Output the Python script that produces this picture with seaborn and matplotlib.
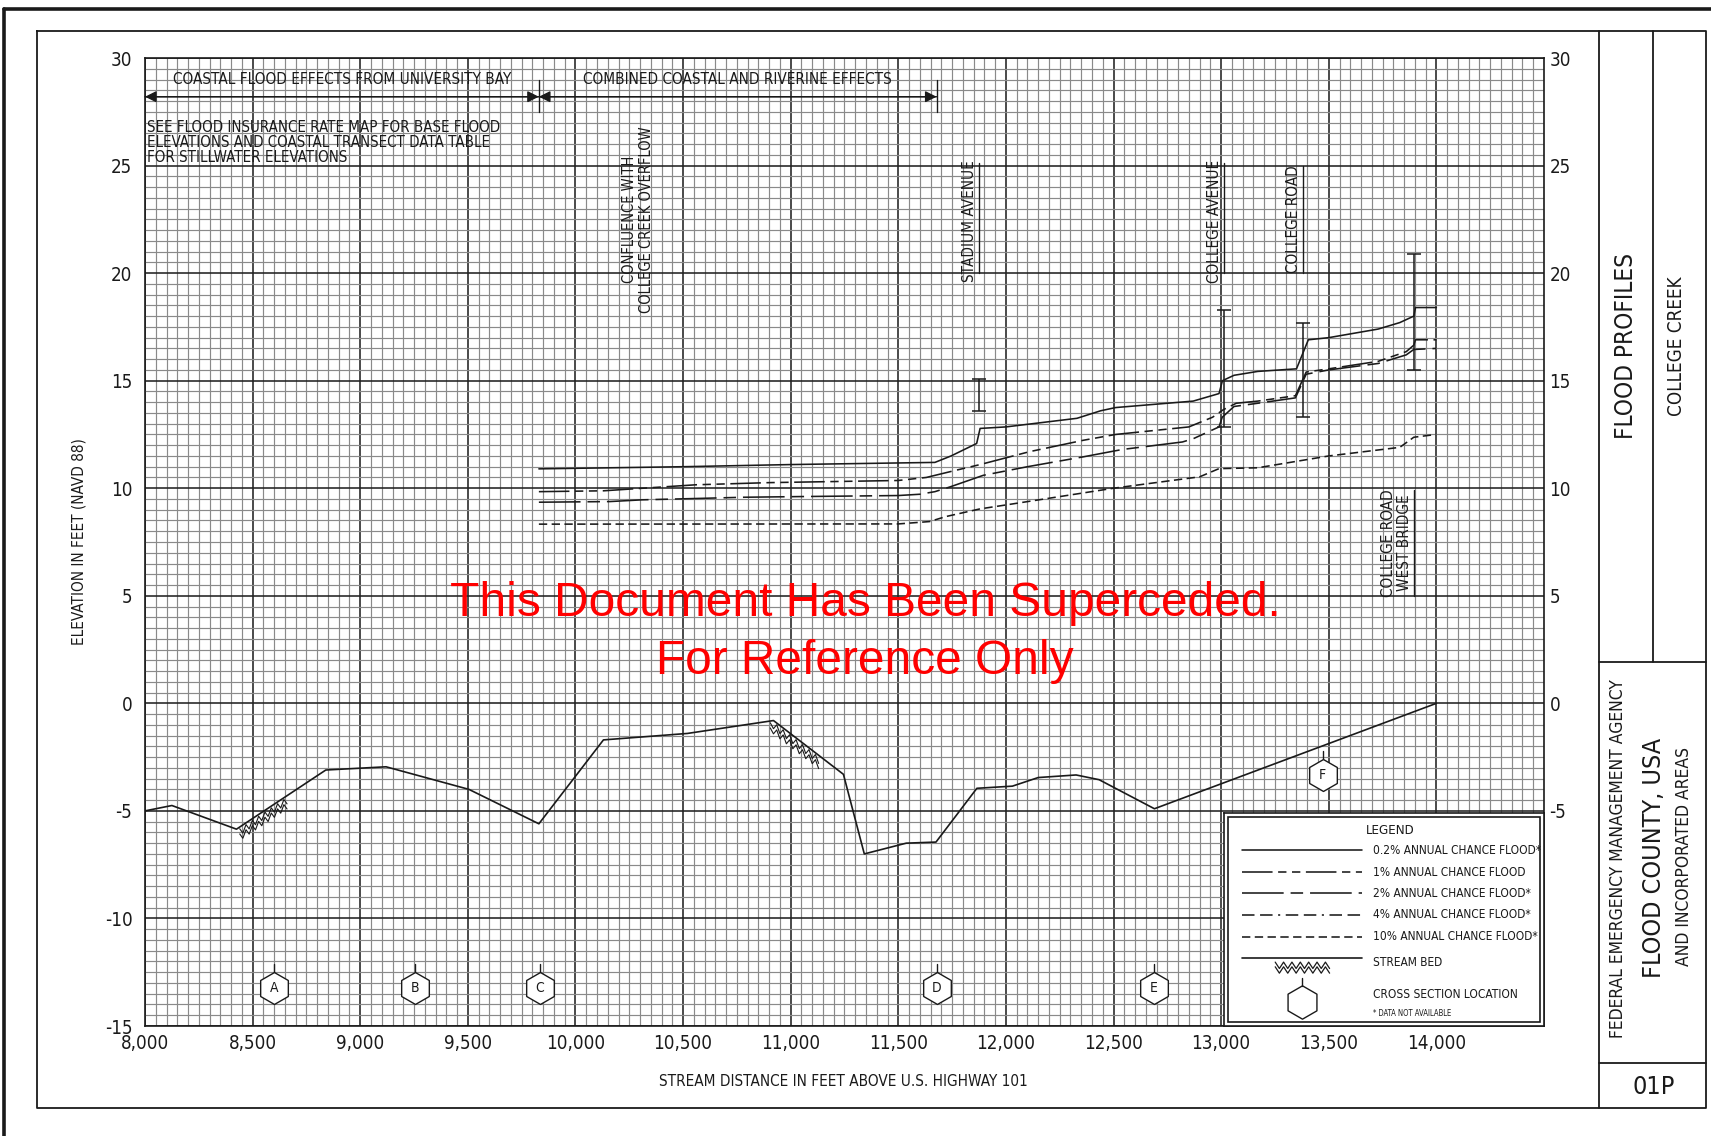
import numpy as np
import matplotlib
matplotlib.use("Agg")
import matplotlib.pyplot as plt
import matplotlib.transforms as mtransforms
from matplotlib.lines import Line2D
from matplotlib.patches import Rectangle
from matplotlib.ticker import MultipleLocator
import seaborn as sns

# ---------------------------------------------------------------- data
# Stream bed (stream distance in feet, elevation in feet NAVD 88)
bed_dist = [8000, 8125, 8425, 8840, 9120, 9505, 9830, 10130, 10520, 10920,
            11245, 11342, 11537, 11675, 11865, 12030, 12150, 12326, 12433,
            12690, 14000]
bed_elev = [-5.0, -4.75, -5.85, -3.1, -2.95, -4.0, -5.6, -1.7, -1.4, -0.8,
            -3.3, -7.0, -6.5, -6.45, -3.95, -3.85, -3.45, -3.33, -3.55,
            -4.9, 0.0]

# 0.2% annual chance flood profile
p02_dist = [9830, 10500, 11000, 11670, 11745, 11864, 11880, 12000, 12330,
            12440, 12510, 12870, 12990, 13006, 13060, 13170, 13350, 13405,
            13500, 13730, 13830, 13895, 13903, 14000]
p02_elev = [10.9, 11.0, 11.1, 11.2, 11.5, 12.08, 12.78, 12.85, 13.25,
            13.6, 13.75, 14.05, 14.4, 15.0, 15.25, 15.43, 15.55, 16.9,
            17.0, 17.4, 17.7, 18.0, 18.4, 18.4]

# 1% annual chance flood profile
p1_dist = [9830, 10130, 10390, 10560, 10900, 11500, 11630, 11770, 11880,
           12110, 12360, 12510, 12850, 12960, 13010, 13070, 13170, 13345,
           13395, 13500, 13730, 13860, 13895, 13903, 14000]
p1_elev = [9.84, 9.88, 10.05, 10.16, 10.26, 10.36, 10.5, 10.84, 11.1,
           11.7, 12.23, 12.5, 12.85, 13.3, 13.65, 13.95, 14.05, 14.3,
           15.4, 15.55, 15.9, 16.35, 16.65, 16.9, 16.9]

# 2% annual chance flood profile
p2_dist = [9830, 10160, 10310, 10590, 10780, 11030, 11500, 11600, 11670,
           11740, 11895, 12100, 12360, 12540, 12820, 12870, 12990, 13005,
           13060, 13170, 13345, 13395, 13500, 13730, 13860, 13895, 14000]
p2_elev = [9.35, 9.38, 9.46, 9.53, 9.58, 9.61, 9.66, 9.72, 9.84, 10.06,
           10.6, 11.0, 11.46, 11.8, 12.15, 12.3, 12.85, 13.3, 13.8, 13.95,
           14.2, 15.3, 15.5, 15.8, 16.2, 16.45, 16.5]

# 10% annual chance flood profile
p10_dist = [9830, 11500, 11645, 11720, 11880, 12005, 12500, 12900, 12990,
            13170, 13500, 13830, 13895, 14000]
p10_elev = [8.33, 8.34, 8.45, 8.68, 9.04, 9.23, 10.0, 10.53, 10.91, 10.95,
            11.5, 11.9, 12.37, 12.5]

# Cross sections
xs_labels = ["A", "B", "C", "D", "E", "F"]
xs_dist = [8600, 9255, 9835, 11678, 12688, 13472]
xs_elev = [-13.25, -13.25, -13.25, -13.25, -13.25, -3.33]

# Hydraulic structures: crossing name, distance, low / high chord bars
road_names = ["STADIUM AVENUE", "COLLEGE AVENUE", "COLLEGE ROAD",
              "COLLEGE ROAD\nWEST BRIDGE"]
road_dist = [11877, 13011, 13381, 13896]
bar_low = [13.6, 12.85, 13.3, 15.5]
bar_high = [15.1, 18.3, 17.7, 20.9]
leader_low = [20.0, 20.0, 20.0, 5.0]
leader_high = [25.1, 25.1, 25.0, 9.9]
name_elev = [22.4, 22.4, 22.5, 7.45]

# Axes ticks
x_ticks = [8000, 8500, 9000, 9500, 10000, 10500, 11000, 11500, 12000,
           12500, 13000, 13500, 14000]
x_tick_labels = ["8,000", "8,500", "9,000", "9,500", "10,000", "10,500",
                 "11,000", "11,500", "12,000", "12,500", "13,000", "13,500",
                 "14,000"]
y_ticks = [30, 25, 20, 15, 10, 5, 0, -5, -10, -15]
y_ticks_right = [30, 25, 20, 15, 10, 5, 0, -5]

# Reach limits
coastal_start, coastal_end, combined_end = 8000, 9830, 11678
confluence_dist = 10290

# ---------------------------------------------------------------- style
sns.set_theme(style="white")
plt.rcParams["font.family"] = ["DejaVu Sans"]
plt.rcParams["font.stretch"] = "condensed"
plt.rcParams["axes.unicode_minus"] = False
plt.rcParams["lines.scale_dashes"] = False
plt.rcParams["text.color"] = "#1a1a1a"

INK = "#1a1a1a"
LW = 1.15
STYLES = {
    "p02": "-",
    "p1": (0, (22, 4, 6, 4, 6, 4)),
    "p2": (0, (30, 5, 9, 5)),
    "p4": (0, (9, 4, 9, 4, 1.5, 4)),
    "p10": (0, (6, 3.2)),
}

W, H = 1711, 1136
fig = plt.figure(figsize=(W / 100, H / 100), dpi=100)
fig.patch.set_facecolor("white")


def fx(px):
    return px / W


def fy(py):
    return 1 - py / H


def fig_line(xs, ys, lw=1.3, color=INK):
    fig.add_artist(Line2D([fx(v) for v in xs], [fy(v) for v in ys],
                          transform=fig.transFigure, color=color, lw=lw))


# ---------------------------------------------------------------- sheet frame
fig_line([4, W], [9, 9], lw=2.6)
fig_line([4, 4], [9, H], lw=2.6)
fig_line([37, 1706, 1706, 37, 37], [31, 31, 1108, 1108, 31], lw=1.3)
fig_line([1599, 1599], [31, 1108])
fig_line([1599, 1706], [662, 662])
fig_line([1653, 1653], [31, 662])
fig_line([1599, 1706], [1063, 1063])

fig.text(fx(1626), fy(346), "FLOOD PROFILES", rotation=90, ha="center",
         va="center", fontsize=17.5)
fig.text(fx(1677), fy(346), "COLLEGE CREEK", rotation=90, ha="center",
         va="center", fontsize=13.5)
fig.text(fx(1618), fy(859), "FEDERAL EMERGENCY MANAGEMENT AGENCY", rotation=90,
         ha="center", va="center", fontsize=12.5)
fig.text(fx(1654), fy(858), "FLOOD COUNTY, USA", rotation=90, ha="center",
         va="center", fontsize=18)
fig.text(fx(1684), fy(857), "AND INCORPORATED AREAS", rotation=90,
         ha="center", va="center", fontsize=12.5)
fig.text(fx(1654), fy(1087), "01P", ha="center", va="center", fontsize=18)

# ---------------------------------------------------------------- profile axes
ax = fig.add_axes([fx(145), fy(1026), fx(1544) - fx(145), fy(58) - fy(1026)])
ax.set_xlim(8000, 14500)
ax.set_ylim(-15, 30)
ax.set_axisbelow(True)
ax.set_xticks(x_ticks)
ax.set_xticklabels(x_tick_labels)
ax.set_yticks(y_ticks)
ax.xaxis.set_minor_locator(MultipleLocator(50))
ax.yaxis.set_minor_locator(MultipleLocator(0.5))
ax.grid(which="minor", color="#8a8a8a", lw=0.85)
ax.grid(which="major", color="#222222", lw=1.15)
ax.tick_params(which="both", length=0, labelsize=13.5, colors=INK)
ax.tick_params(axis="x", pad=6)
ax.tick_params(axis="y", pad=9)
for s in ax.spines.values():
    s.set_color(INK)
    s.set_linewidth(1.2)

ax_r = ax.twinx()
ax_r.set_ylim(-15, 30)
ax_r.set_yticks(y_ticks_right)
ax_r.grid(False)
ax_r.tick_params(length=0, labelsize=13.5, pad=4, colors=INK)
for s in ax_r.spines.values():
    s.set_visible(False)

# stream bed
sns.lineplot(x=bed_dist, y=bed_elev, ax=ax, color=INK, lw=1.2,
             sort=False, estimator=None)


def bed_hatch(axis, x0, x1, n, depth):
    xs = np.linspace(x0, x1, n)
    base = np.interp(xs, bed_dist, bed_elev)
    for off in (0.08, 0.32):
        zz = base - off - depth * (np.arange(n) % 2)
        axis.plot(xs, zz, color=INK, lw=0.8, zorder=3)


bed_hatch(ax, 8440, 8660, 16, 0.3)
bed_hatch(ax, 10905, 11130, 16, 0.3)

# flood profiles
for d, e, key in [(p02_dist, p02_elev, "p02"), (p1_dist, p1_elev, "p1"),
                  (p2_dist, p2_elev, "p2"), (p10_dist, p10_elev, "p10")]:
    sns.lineplot(x=d, y=e, ax=ax, color=INK, lw=LW, linestyle=STYLES[key],
                 sort=False, estimator=None)

# structure bars with end caps
mid = [(a + b) / 2 for a, b in zip(bar_low, bar_high)]
half = [(b - a) / 2 for a, b in zip(bar_low, bar_high)]
ax.errorbar(road_dist, mid, yerr=half, fmt="none", ecolor=INK,
            elinewidth=1.1, capsize=5, capthick=1.1, zorder=3)

# crossing names with leader lines
name_shift = mtransforms.offset_copy(ax.transData, fig=fig, x=-2, y=0,
                                     units="dots")
for name, d, lo, hi, ye in zip(road_names, road_dist, leader_low,
                               leader_high, name_elev):
    ax.plot([d, d], [lo, hi], color=INK, lw=1.0)
    ax.text(d, ye, name, rotation=90, ha="right", va="center",
            multialignment="center", fontsize=11, linespacing=1.1,
            transform=name_shift, color=INK)

ax.text(confluence_dist, 22.5, "CONFLUENCE WITH\nCOLLEGE CREEK OVERFLOW",
        rotation=90, ha="center", va="center", multialignment="center",
        fontsize=10.5, linespacing=1.15, color=INK)

# reach arrows along the top
for a, b in [(coastal_start, coastal_end), (coastal_end, combined_end)]:
    ax.annotate("", xy=(a, 28.2), xytext=(b, 28.2),
                arrowprops=dict(arrowstyle="-|>", color=INK, lw=1.0,
                                mutation_scale=17, shrinkA=0, shrinkB=0))
    ax.annotate("", xy=(b, 28.2), xytext=(a, 28.2),
                arrowprops=dict(arrowstyle="-|>", color=INK, lw=1.0,
                                mutation_scale=17, shrinkA=0, shrinkB=0))
for d in (coastal_end, combined_end):
    ax.plot([d, d], [27.5, 29.0], color=INK, lw=1.0)

ax.text((coastal_start + coastal_end) / 2, 29.0,
        "COASTAL FLOOD EFFECTS FROM UNIVERSITY BAY", ha="center",
        va="center", fontsize=11, color=INK)
ax.text((coastal_end + combined_end) / 2, 29.0,
        "COMBINED COASTAL AND RIVERINE EFFECTS", ha="center", va="center",
        fontsize=11, color=INK)
ax.text(coastal_start + 8, 26.05,
        "SEE FLOOD INSURANCE RATE MAP FOR BASE FLOOD\n"
        "ELEVATIONS AND COASTAL TRANSECT DATA TABLE\n"
        "FOR STILLWATER ELEVATIONS", ha="left", va="center",
        fontsize=10.8, linespacing=1.0, color=INK)

# cross-section hexagons
sns.scatterplot(x=xs_dist, y=xs_elev, ax=ax, marker="h", s=23 ** 2,
                facecolor="white", edgecolor=INK, linewidth=1.0, zorder=4)
ft_per_px = 45.0 / (1026 - 58)
for lab, d, e in zip(xs_labels, xs_dist, xs_elev):
    top = e + 16 * ft_per_px
    ax.plot([d, d], [top, top + 8 * ft_per_px], color=INK, lw=1.0, zorder=4)
    ax.text(d, e, lab, ha="center", va="center", fontsize=10, color=INK,
            zorder=5)

ax.set_xlabel("")
ax.set_ylabel("")
fig.text(fx(79), fy(542), "ELEVATION IN FEET (NAVD 88)", rotation=90,
         ha="center", va="center", fontsize=11)
fig.text(fx(843), fy(1081), "STREAM DISTANCE IN FEET ABOVE U.S. HIGHWAY 101",
         ha="center", va="center", fontsize=11)

# watermark
fig.text(fx(865), fy(603), "This Document Has Been Superceded.",
         ha="center", va="center", color="red", fontsize=34.5,
         family="Liberation Sans", stretch="normal")
fig.text(fx(865), fy(661), "For Reference Only", ha="center", va="center",
         color="red", fontsize=34.5, family="Liberation Sans",
         stretch="normal")

# ---------------------------------------------------------------- legend box
lax = fig.add_axes([fx(1224), fy(1026), fx(1544) - fx(1224),
                    fy(813) - fy(1026)])
lax.set_xlim(0, 1)
lax.set_ylim(0, 1)
lax.set_xticks([])
lax.set_yticks([])
lax.set_facecolor("white")
for s in lax.spines.values():
    s.set_color(INK)
    s.set_linewidth(1.2)
lax.add_patch(Rectangle((0.0125, 0.019), 0.975, 0.962, fill=False, lw=1.2,
                        ec=INK))

lax.text(0.444, 0.92, "LEGEND", ha="left", va="center", fontsize=9.5)
legend_rows = [("p02", "0.2% ANNUAL CHANCE FLOOD*", 0.826),
               ("p1", "1% ANNUAL CHANCE FLOOD", 0.723),
               ("p2", "2% ANNUAL CHANCE FLOOD*", 0.624),
               ("p4", "4% ANNUAL CHANCE FLOOD*", 0.523),
               ("p10", "10% ANNUAL CHANCE FLOOD*", 0.420)]
for key, label, v in legend_rows:
    lax.plot([0.056, 0.431], [v, v], color=INK, lw=LW, linestyle=STYLES[key])
    lax.text(0.466, v, label, ha="left", va="center", fontsize=8.6)

lax.plot([0.056, 0.431], [0.319, 0.319], color=INK, lw=1.2)
zx = np.linspace(0.16, 0.33, 14)
for off in (0.0, 0.022):
    lax.plot(zx, 0.30 - off - 0.03 * (np.arange(14) % 2), color=INK, lw=0.9)
lax.text(0.466, 0.296, "STREAM BED", ha="left", va="center", fontsize=8.6)

lax.scatter([0.244], [0.113], marker="h", s=24 ** 2, facecolor="white",
            edgecolor=INK, linewidth=1.0)
lax.plot([0.244, 0.244], [0.19, 0.225], color=INK, lw=1.0)
lax.text(0.466, 0.146, "CROSS SECTION LOCATION", ha="left", va="center",
         fontsize=8.6)
lax.text(0.466, 0.061, "* DATA NOT AVAILABLE", ha="left", va="center",
         fontsize=5.5)

fig.savefig("out.png", dpi=100, facecolor="white")
